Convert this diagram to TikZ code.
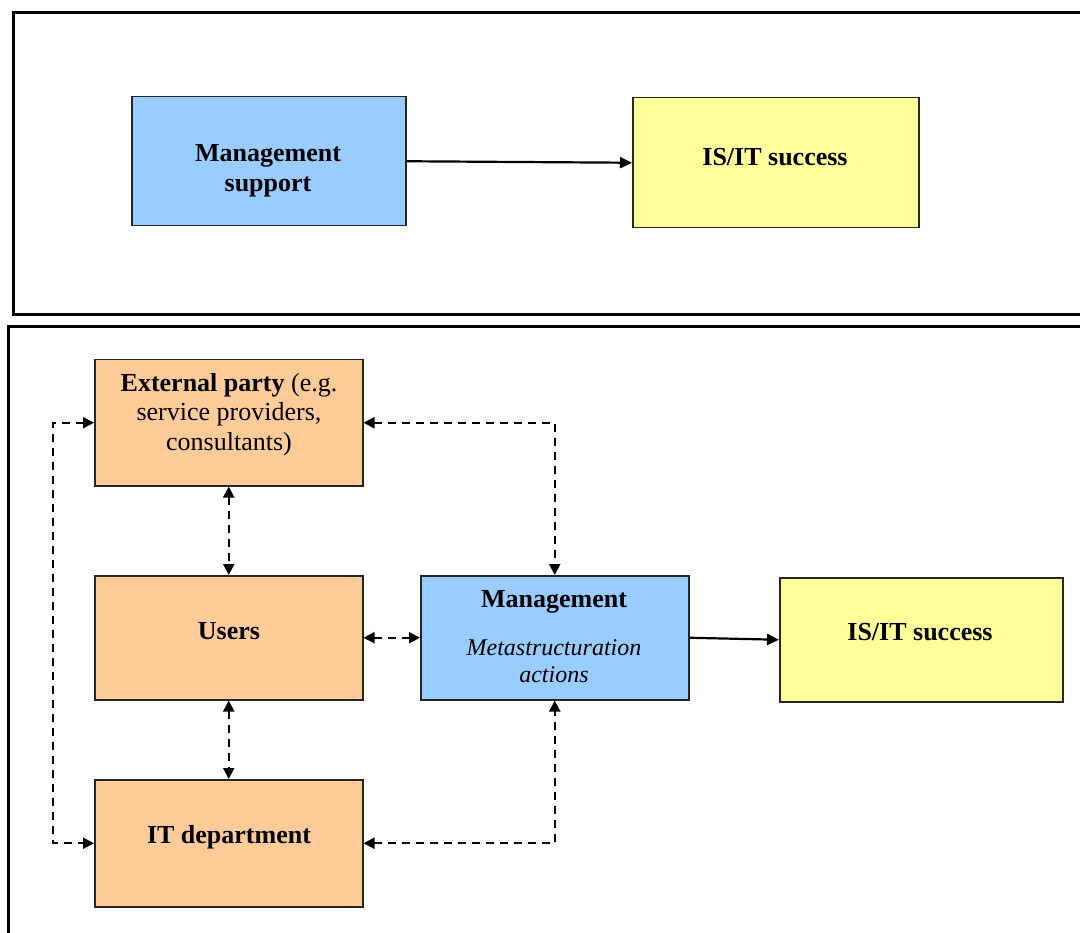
\documentclass[tikz,border=0pt]{standalone}
\usepackage{fontspec}
\setmainfont{Liberation Serif}
\usetikzlibrary{arrows.meta}
\definecolor{boxblue}{HTML}{99CCFF}
\definecolor{boxyellow}{HTML}{FFFF99}
\definecolor{boxorange}{HTML}{FFCC99}
\tikzset{
  frame/.style={draw=black, line width=3pt},
  box/.style={draw=black!85, line width=1.5pt, inner sep=0pt, anchor=north west},
  txt/.style={font=\fontsize{26}{30}\selectfont, align=center, inner sep=0pt, anchor=base},
  btxt/.style={txt, font=\fontsize{26}{30}\selectfont\bfseries},
  solidarrow/.style={line width=2.2pt, -{Triangle[length=12pt,width=11pt]}},
  dasharrow/.style={line width=2pt, dash pattern=on 8pt off 6pt,
    {Triangle[length=11pt,width=11pt]}-{Triangle[length=11pt,width=11pt]}},
}
\begin{document}
\begin{tikzpicture}[x=1pt,y=-1pt]
\useasboundingbox (0,0) rectangle (1080,933);
\clip (0,0) rectangle (1080,933);
% frames
\draw[frame] (13,13) rectangle (1100,315);
\draw[frame] (8,327) rectangle (1100,960);

% top boxes
\node[box, fill=boxblue, minimum width=274pt, minimum height=129pt] (ms) at (131,96) {};
\node[btxt] (mstext) at (268,192) {Management\\support};
\node[box, fill=boxyellow, minimum width=286pt, minimum height=130pt] (is1) at (632,97) {};
\node[btxt] (is1text) at (775,166) {IS/IT success};
\draw[solidarrow] (ms.east) -- (is1.west);

% bottom boxes
\node[box, fill=boxorange, minimum width=268pt, minimum height=126pt] (ext) at (94,359) {};
\node[txt] (exttext) at (229,451) {\textbf{External party} (e.g.\\service providers,\\consultants)};
\node[box, fill=boxorange, minimum width=268pt, minimum height=124pt] (users) at (94,575) {};
\node[btxt] (userstext) at (229,639) {Users};
\node[box, fill=boxorange, minimum width=268pt, minimum height=127pt] (it) at (94,779) {};
\node[btxt] (ittext) at (229,843) {IT department};
\node[box, fill=boxblue, minimum width=268pt, minimum height=124pt] (mg) at (420,575) {};
\node[btxt] (mgtext) at (554,607) {Management};
\node[txt, font=\fontsize{24}{27}\selectfont\itshape] (mgsub) at (554,682) {Metastructuration\\actions};
\node[box, fill=boxyellow, minimum width=283pt, minimum height=124pt] (is2) at (779,577) {};
\node[btxt] (is2text) at (920,640) {IS/IT success};

% connectors
\coordinate (lx) at (53,600);
\draw[dasharrow] (ext.south) -- (users.north);
\draw[dasharrow] (users.south) -- (it.north);
\draw[dasharrow] (users.east) -- (mg.west);
\draw[dasharrow] (ext.west) -- (ext.west -| lx) -- (it.west -| lx) -- (it.west);
\draw[dasharrow] (ext.east) -| (mg.north);
\draw[dasharrow] (it.east) -| (mg.south);
\draw[solidarrow] (mg.east) -- (is2.west);
\end{tikzpicture}
\end{document}
